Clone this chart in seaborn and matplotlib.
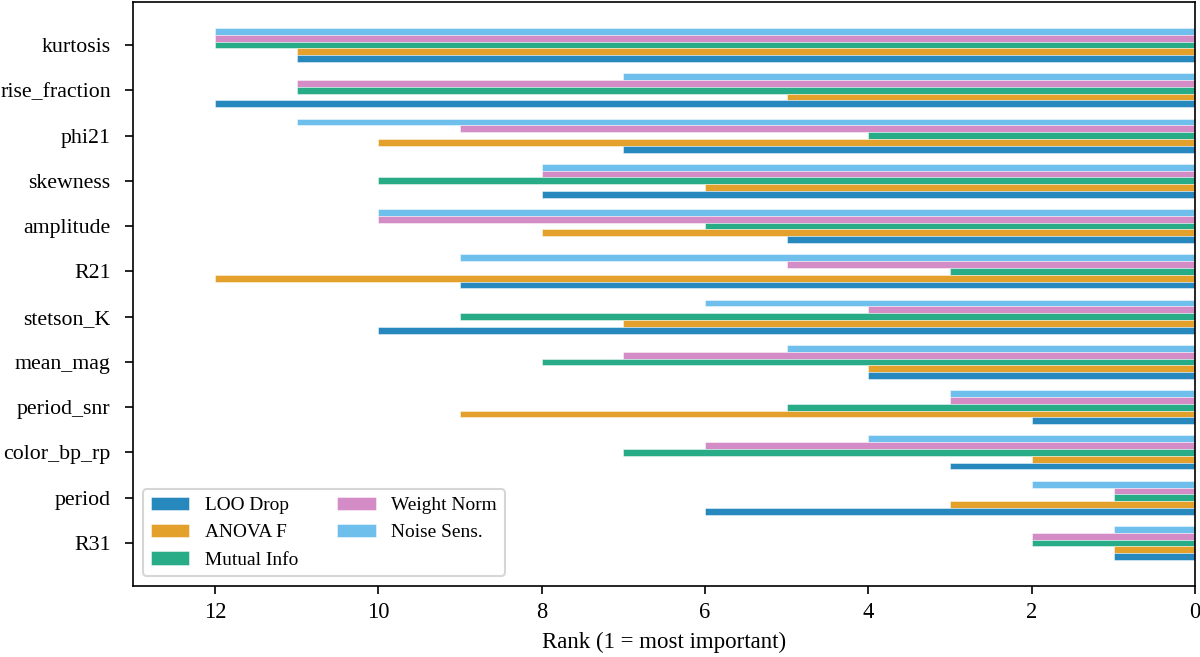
import pandas as pd
import seaborn as sns
import matplotlib
matplotlib.use("Agg")
import matplotlib.pyplot as plt

# features, top to bottom
features = ["kurtosis", "rise_fraction", "phi21", "skewness", "amplitude", "R21",
            "stetson_K", "mean_mag", "period_snr", "color_bp_rp", "period", "R31"]

methods = ["LOO Drop", "ANOVA F", "Mutual Info", "Weight Norm", "Noise Sens."]
colors = ["#0173B2", "#DE8F05", "#029E73", "#CC78BC", "#56B4E9"]

# rank of each feature per method (1 = most important)
loo_drop = [11, 12, 7, 8, 5, 9, 10, 4, 2, 3, 6, 1]
anova_f = [11, 5, 10, 6, 8, 12, 7, 4, 9, 2, 3, 1]
mutual_info = [12, 11, 4, 10, 6, 3, 9, 8, 5, 7, 1, 2]
weight_norm = [12, 11, 9, 8, 10, 5, 4, 7, 3, 6, 1, 2]
noise_sens = [12, 7, 11, 8, 10, 9, 6, 5, 3, 4, 2, 1]


def build_frame():
    ranks = [loo_drop, anova_f, mutual_info, weight_norm, noise_sens]
    rows = []
    for method, vals in zip(methods, ranks):
        for feat, v in zip(features, vals):
            rows.append({"feature": feat, "method": method, "rank": v})
    return pd.DataFrame(rows)


def main():
    df = build_frame()

    plt.rcParams["font.family"] = ["Liberation Serif", "DejaVu Serif"]

    fig, ax = plt.subplots(figsize=(8, 4.38), dpi=150)
    fig.subplots_adjust(left=0.111, right=0.996, top=0.997, bottom=0.108)

    # LOO Drop sits at the bottom of each group, so reverse the hue order
    hue_order = methods[::-1]
    palette = dict(zip(methods, colors))
    sns.barplot(data=df, y="feature", x="rank", hue="method", order=features,
                hue_order=hue_order, palette=palette, orient="h", width=0.75,
                errorbar=None, saturation=1, alpha=0.85, edgecolor="white",
                linewidth=0.25, ax=ax)

    ax.set_xlim(13, 0)
    ax.set_ylim(11.95, -0.95)
    ax.set_xticks([12, 10, 8, 6, 4, 2, 0])
    ax.set_xlabel("Rank (1 = most important)", fontsize=11)
    ax.set_ylabel("")
    ax.tick_params(axis="y", labelsize=10.5, pad=7, length=3.8)
    ax.tick_params(axis="x", labelsize=10.8, pad=4, length=3.8)

    handles, labels = ax.get_legend_handles_labels()
    ax.legend(handles[::-1], labels[::-1], loc="lower left", ncol=2, fontsize=9.3,
              frameon=True)

    fig.savefig("out.png", dpi=150)
    plt.close(fig)


if __name__ == "__main__":
    main()
